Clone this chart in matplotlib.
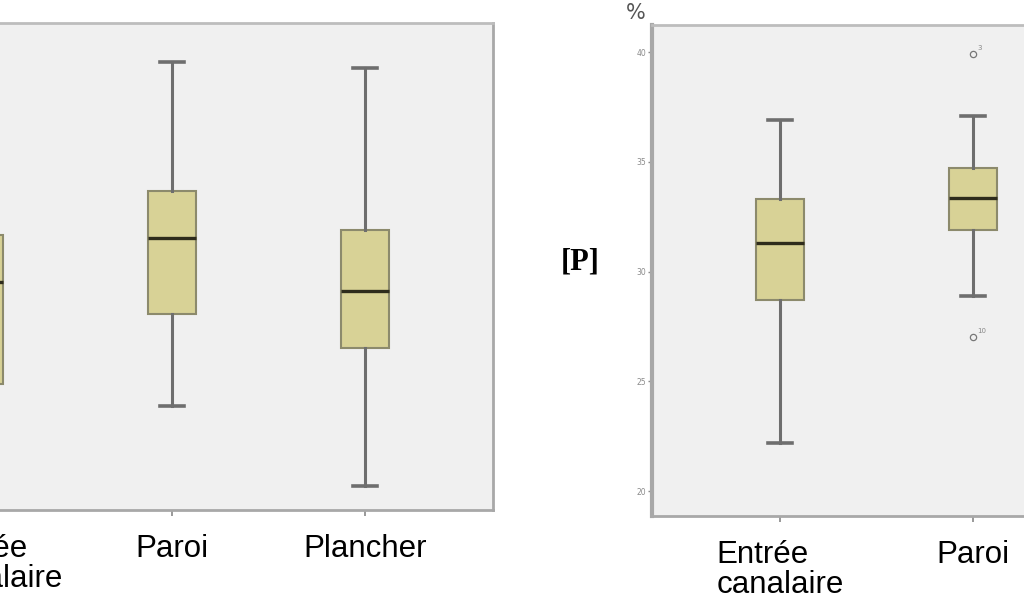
import matplotlib
matplotlib.use("Agg")
import matplotlib.pyplot as plt
from matplotlib.transforms import ScaledTranslation

# left panel (y axis not visible in the crop, scale estimated)
left_cats = ["Entrée\ncanalaire", "Paroi", "Plancher"]
left_q1 = [12.9, 20.1, 16.6]
left_med = [23.4, 27.9, 22.5]
left_q3 = [28.2, 32.75, 28.7]
left_lo = [4.0, 10.7, 2.5]
left_hi = [44.0, 46.0, 45.4]

# right panel [P] %
right_cats = ["Entrée\ncanalaire", "Paroi"]
right_q1 = [28.7, 31.9]
right_med = [31.3, 33.35]
right_q3 = [33.3, 34.7]
right_lo = [22.2, 28.9]
right_hi = [36.9, 37.1]
right_fliers = [[], [39.9, 27.0]]
right_flier_ids = [[], ["3", "10"]]
right_yticks = [20, 25, 30, 35, 40]

BOX_FILL = "#d8d296"
BOX_EDGE = "#8c8a6c"
WHISK = "#6e6e6e"
BG = "#f0f0f0"
FRAME = "#a8a8a8"


def make_stats(q1, med, q3, lo, hi, fliers=None):
    out = []
    for i in range(len(q1)):
        out.append(dict(q1=q1[i], med=med[i], q3=q3[i], whislo=lo[i], whishi=hi[i],
                        fliers=fliers[i] if fliers else []))
    return out


def draw_panel(ax, stats, cats):
    pos = list(range(1, len(cats) + 1))
    ax.bxp(stats, positions=pos, widths=0.25, capwidths=0.125, patch_artist=True,
           boxprops=dict(facecolor=BOX_FILL, edgecolor=BOX_EDGE, linewidth=1.5),
           medianprops=dict(color="#2e2c1c", linewidth=2.4),
           whiskerprops=dict(color=WHISK, linewidth=2.2),
           capprops=dict(color=WHISK, linewidth=2.6),
           flierprops=dict(marker="o", markersize=4.5, markerfacecolor="none",
                           markeredgecolor="#777777", markeredgewidth=0.9))
    ax.set_facecolor(BG)
    ax.set_xlim(1 - 128 / 193, 3 + 128 / 193)
    ax.set_xticks(pos)
    ax.set_xticklabels(cats, fontsize=22.5, family="Liberation Sans", linespacing=1.0,
                       multialignment="left")
    ax.tick_params(axis="x", length=4, width=1.2, color="#888888", pad=13)
    for s in ax.spines.values():
        s.set_color(FRAME)
        s.set_linewidth(2)
    ax.spines["top"].set_color("#bdbdbd")


fig = plt.figure(figsize=(10.24, 6.0), dpi=100)

ax1 = fig.add_axes([-149 / 1024, 90 / 600, 642 / 1024, 487 / 600])
draw_panel(ax1, make_stats(left_q1, left_med, left_q3, left_lo, left_hi), left_cats)
ax1.set_ylim(0, 50)
ax1.set_yticks([])
# first label sits a little right of its tick in the original
lab0 = ax1.get_xticklabels()[0]
lab0.set_transform(lab0.get_transform() + ScaledTranslation(0.2, 0, fig.dpi_scale_trans))

ax2 = fig.add_axes([652 / 1024, 84 / 600, 642 / 1024, 491 / 600])
draw_panel(ax2, make_stats(right_q1, right_med, right_q3, right_lo, right_hi, right_fliers),
           right_cats)
ax2.set_ylim(20 - 25 / 21.95, 20 + 466 / 21.95)
ax2.set_yticks(right_yticks)
ax2.set_yticklabels([str(t) for t in right_yticks], fontsize=5.5, color="#8a8a8a")
ax2.tick_params(axis="y", length=3, width=1, color="#8a8a8a", pad=1)
ax2.spines["left"].set_linewidth(3)

for i, vals in enumerate(right_fliers):
    for v, lab in zip(vals, right_flier_ids[i]):
        ax2.annotate(lab, (i + 1, v), xytext=(3, 3), textcoords="offset points",
                     fontsize=5, color="#888888")

fig.text(636 / 1024, 1 - 13 / 600, "%", fontsize=15, color="#555555",
         ha="center", va="center")
fig.text(580 / 1024, 1 - 262 / 600, "[P]", fontsize=22, fontweight="bold",
         family="Liberation Serif", ha="center", va="center")

fig.savefig("out.png", dpi=100)
